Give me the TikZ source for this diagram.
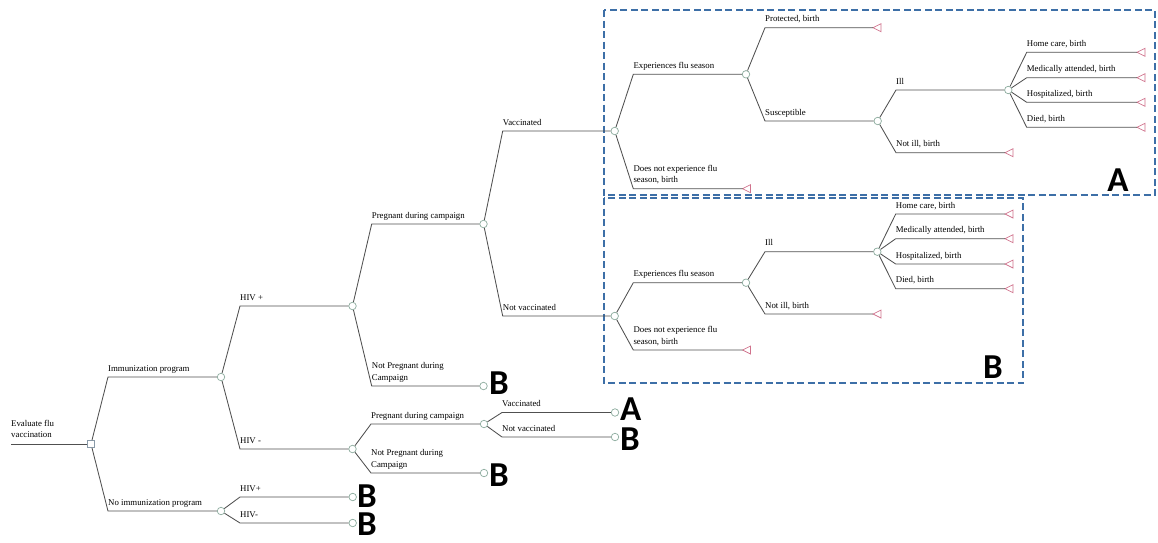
\documentclass[tikz,border=0pt]{standalone}
\usepackage{fontspec}
\setmainfont{Liberation Serif}
\newfontfamily\bigf{Carlito}
\usetikzlibrary{calc}
\definecolor{lc}{HTML}{505050}
\definecolor{chc}{HTML}{8AAA9C}
\definecolor{tc}{HTML}{D0728C}
\definecolor{dc}{HTML}{8A9AA8}
\definecolor{bx}{HTML}{3D6FA7}
\tikzset{
  br/.style={draw=lc, line width=0.85pt},
  ch/.style={circle, draw=chc, line width=0.7pt, fill=white, minimum size=7.5pt, inner sep=0pt},
  dec/.style={rectangle, draw=dc, line width=0.7pt, fill=white, minimum size=7pt, inner sep=0pt},
  term/.style={draw=tc, line width=0.7pt},
  lab/.style={anchor=base west, inner sep=0pt, font=\fontsize{8.8}{11.5}\selectfont, text=black},
  letter/.style={inner sep=0pt, font=\bigf\bfseries\fontsize{35}{35}\selectfont},
  grp/.style={draw=bx, line width=2.2pt, dash pattern=on 7pt off 3.5pt},
}
\newcommand\brto[3]{\draw[br] let \p1=(#2) in (#1) -- (#3,\y1) -- (#2);}
\newcommand\tnode[3]{\coordinate (#1) at (#2,#3); \draw[term] (#1) -- ++(8,-4) -- ++(0,8) -- cycle;}
\newcommand\twol[2]{\begin{tabular}[b]{@{}l@{}}#1\\#2\end{tabular}}
\begin{document}
\begin{tikzpicture}[x=1pt,y=-1pt]
\useasboundingbox (0,0) rectangle (1158,542);

% group boxes
\draw[grp] (604,10) rectangle (1155,195);
\draw[grp] (604,198) rectangle (1023,383);
\node[letter] (LA) at (1118,180) {A};
\node[letter] (LB) at (993,367) {B};

% root
\coordinate (start) at (11,444);
\node[dec] (root) at (91,444) {};
\draw[br] (start) -- (root);
\node[lab] (tRoot) at (11,437.5) {\twol{Evaluate flu}{vaccination}};

% level 1
\node[ch] (imm) at (221,377) {};
\node[ch] (noimm) at (221,511) {};
\brto{root}{imm}{108}
\brto{root}{noimm}{108}
\node[lab] (tImm) at (108,371) {Immunization program};
\node[lab] (tNoimm) at (108,505) {No immunization program};

% no immunization
\node[ch] (nhp) at (352.7,497) {};
\node[ch] (nhm) at (352.7,523) {};
\brto{noimm}{nhp}{240}
\brto{noimm}{nhm}{240}
\node[lab] (tNhp) at (240,491) {HIV+};
\node[lab] (tNhm) at (240,517) {HIV-};
\node[letter, anchor=west] (B1) at (357,496) {B};
\node[letter, anchor=west] (B2) at (357,524.5) {B};

% immunization
\node[ch] (hp) at (352.5,306) {};
\node[ch] (hm) at (352.5,449) {};
\brto{imm}{hp}{240}
\brto{imm}{hm}{240}
\node[lab] (tHp) at (240,300) {HIV +};
\node[lab] (tHm) at (240,443) {HIV -};

% HIV +
\node[ch] (hpP) at (483.5,224) {};
\node[ch] (hpN) at (483.5,386) {};
\brto{hp}{hpP}{371.7}
\brto{hp}{hpN}{371.7}
\node[lab] (tHpP) at (371.7,218) {Pregnant during campaign};
\node[lab] (tHpN) at (371.7,380) {\twol{Not Pregnant during}{Campaign}};
\node[letter, anchor=west] (B3) at (489,383) {B};

% HIV -
\node[ch] (hmP) at (484,424) {};
\node[ch] (hmN) at (484,473) {};
\brto{hm}{hmP}{371}
\brto{hm}{hmN}{371}
\node[lab] (tHmP) at (371,418) {Pregnant during campaign};
\node[lab] (tHmN) at (371,467) {\twol{Not Pregnant during}{Campaign}};
\node[letter, anchor=west] (B4) at (489,475) {B};

% HIV - pregnant
\node[ch] (hmV) at (615,412.5) {};
\node[ch] (hmNV) at (615,437) {};
\brto{hmP}{hmV}{502}
\brto{hmP}{hmNV}{502}
\node[lab] (tHmV) at (502,406) {Vaccinated};
\node[lab] (tHmNV) at (502,431) {Not vaccinated};
\node[letter, anchor=west] (A2) at (620,409.5) {A};
\node[letter, anchor=west] (B5) at (620,439) {B};

% HIV + pregnant
\node[ch] (V) at (614.7,131) {};
\node[ch] (NV) at (614.7,316) {};
\brto{hpP}{V}{502.7}
\brto{hpP}{NV}{502.7}
\node[lab] (tV) at (502.7,125) {Vaccinated};
\node[lab] (tNV) at (502.7,310) {Not vaccinated};

% ---- Vaccinated subtree (A)
\node[ch] (VE) at (746,74.3) {};
\tnode{VD}{742.5}{188.7}
\brto{V}{VE}{633.3}
\brto{V}{VD}{633.3}
\node[lab] (tVE) at (633.3,68.3) {Experiences flu season};
\node[lab] (tVD) at (633.3,182.7) {\twol{Does not experience flu}{season, birth}};

\tnode{VEP}{873}{27.7}
\node[ch] (VS) at (877.7,121) {};
\brto{VE}{VEP}{765}
\brto{VE}{VS}{765}
\node[lab] (tVEP) at (765,21.7) {Protected, birth};
\node[lab] (tVS) at (765,115) {Susceptible};

\node[ch] (VSI) at (1008.3,90) {};
\tnode{VSN}{1005}{152.7}
\brto{VS}{VSI}{896}
\brto{VS}{VSN}{896}
\node[lab] (tVSI) at (896,84) {Ill};
\node[lab] (tVSN) at (896,146.7) {Not ill, birth};

\tnode{VI1}{1137}{52.3}
\tnode{VI2}{1137}{77.7}
\tnode{VI3}{1137}{102.3}
\tnode{VI4}{1137}{127.3}
\brto{VSI}{VI1}{1026.7}
\brto{VSI}{VI2}{1026.7}
\brto{VSI}{VI3}{1026.7}
\brto{VSI}{VI4}{1026.7}
\node[lab] (tVI1) at (1026.7,46.3) {Home care, birth};
\node[lab] (tVI2) at (1026.7,71.7) {Medically attended, birth};
\node[lab] (tVI3) at (1026.7,96.3) {Hospitalized, birth};
\node[lab] (tVI4) at (1026.7,121.3) {Died, birth};

% ---- Not vaccinated subtree (B)
\node[ch] (NE) at (746,282.7) {};
\tnode{ND}{742.5}{350}
\brto{NV}{NE}{633.3}
\brto{NV}{ND}{633.3}
\node[lab] (tNE) at (633.3,276.7) {Experiences flu season};
\node[lab] (tND) at (633.3,344) {\twol{Does not experience flu}{season, birth}};

\node[ch] (NEI) at (877.3,251.7) {};
\tnode{NEN}{873}{314}
\brto{NE}{NEI}{765}
\brto{NE}{NEN}{765}
\node[lab] (tNEI) at (765,245.7) {Ill};
\node[lab] (tNEN) at (765,308) {Not ill, birth};

\tnode{NI1}{1005}{214}
\tnode{NI2}{1005}{238.7}
\tnode{NI3}{1005}{264}
\tnode{NI4}{1005}{288.7}
\brto{NEI}{NI1}{895.7}
\brto{NEI}{NI2}{895.7}
\brto{NEI}{NI3}{895.7}
\brto{NEI}{NI4}{895.7}
\node[lab] (tNI1) at (895.7,208) {Home care, birth};
\node[lab] (tNI2) at (895.7,232.7) {Medically attended, birth};
\node[lab] (tNI3) at (895.7,258) {Hospitalized, birth};
\node[lab] (tNI4) at (895.7,282.7) {Died, birth};
\end{tikzpicture}
\end{document}
